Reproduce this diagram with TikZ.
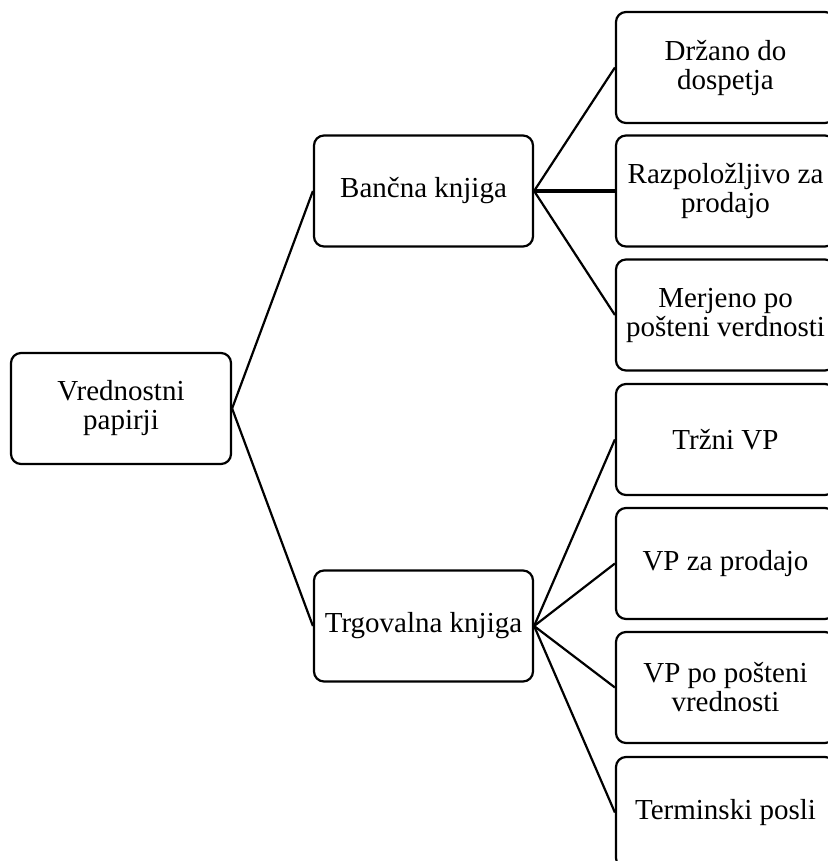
\documentclass[tikz,border=0pt]{standalone}
\usepackage{fontspec}
\setmainfont{Liberation Serif}
\begin{document}
\begin{tikzpicture}[x=1pt,y=-1pt,
  box/.style={draw,line width=2.2pt,rounded corners=10pt,minimum width=219pt,minimum height=111pt,inner sep=0pt,align=center,font=\fontsize{29}{29}\selectfont},
  link/.style={line width=2.2pt},
  thicklink/.style={line width=4pt}]
\useasboundingbox (0,0) rectangle (827,861);
\node[box,minimum width=220pt] (root) at (121,408.5) {Vrednostni\\papirji};
\node[box] (bank) at (423.5,191) {Bančna knjiga};
\node[box] (trade) at (423.5,626) {Trgovalna knjiga};
\node[box] (b1) at (725.5,67.5) {Držano do\\dospetja};
\node[box] (b2) at (725.5,191) {Razpoložljivo za\\prodajo};
\node[box] (b3) at (725.5,315) {Merjeno po\\pošteni verdnosti};
\node[box] (t1) at (725.5,439.5) {Tržni VP};
\node[box] (t2) at (725.5,563.5) {VP za prodajo};
\node[box] (t3) at (725.5,687.5) {VP po pošteni\\vrednosti};
\node[box] (t4) at (725.5,812.5) {Terminski posli};
\draw[link] (root.east) -- (bank.west);
\draw[link] (root.east) -- (trade.west);
\draw[link] (bank.east) -- (b1.west);
\draw[thicklink] (bank.east) -- (b2.west);
\draw[link] (bank.east) -- (b3.west);
\draw[link] (trade.east) -- (t1.west);
\draw[link] (trade.east) -- (t2.west);
\draw[link] (trade.east) -- (t3.west);
\draw[link] (trade.east) -- (t4.west);
\end{tikzpicture}
\end{document}
